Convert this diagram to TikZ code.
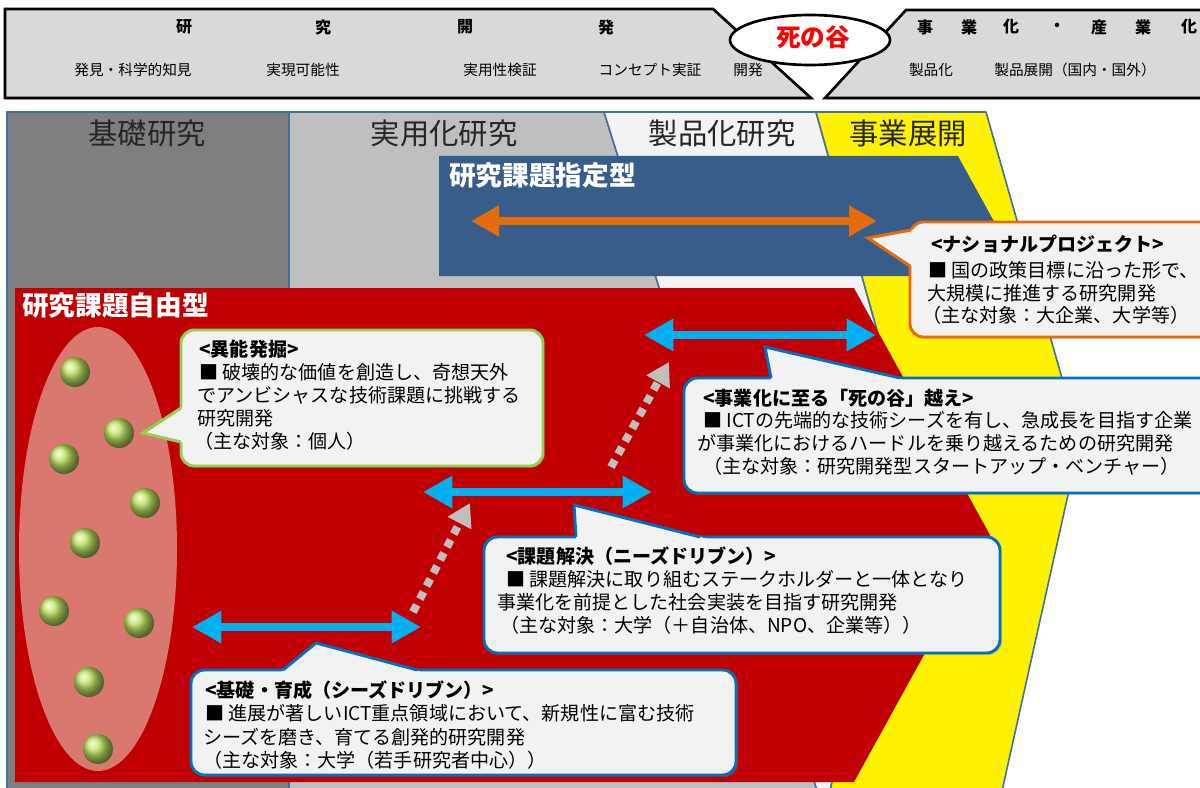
\documentclass[tikz,border=0pt]{standalone}
\usepackage{fontspec}
\setmainfont{Noto Sans CJK JP}
\usetikzlibrary{arrows.meta,shapes.geometric,shadows}
\definecolor{dgray}{HTML}{7F7F7F}
\definecolor{lgray}{HTML}{BFBFBF}
\definecolor{vlgray}{HTML}{F2F2F2}
\definecolor{topgray}{HTML}{D9D9D9}
\definecolor{frameblue}{HTML}{41719C}
\definecolor{regionblue}{HTML}{385D8A}
\definecolor{regionred}{HTML}{C00000}
\definecolor{orangeC}{HTML}{E46C0A}
\definecolor{cyanC}{HTML}{00B0F0}
\definecolor{boxblue}{HTML}{0070C0}
\definecolor{boxgreen}{HTML}{92D050}
\definecolor{pinkC}{HTML}{D9786E}
\definecolor{ballgreen}{HTML}{BDE35F}
\definecolor{dotgray}{HTML}{BFBFBF}
\definecolor{headtxt}{HTML}{262626}
\begin{document}
\begin{tikzpicture}[x=0.75pt,y=-0.75pt,
  topshape/.style={fill=topgray, draw=black, line width=2pt, line join=miter,
    drop shadow={shadow xshift=1.5pt, shadow yshift=-1.5pt, opacity=0.35}},
  col/.style={draw=frameblue, line width=1.2pt, line join=round},
  cbox/.style={fill=vlgray, line width=2.2pt, rounded corners=10pt,
    drop shadow={shadow xshift=1.5pt, shadow yshift=-1.5pt, opacity=0.3}},
  ptr/.style={line width=2.2pt, line join=miter},
  txt/.style={anchor=west, inner sep=0pt, font=\fontsize{14.3}{17}\selectfont},
  ttl/.style={anchor=west, inner sep=0pt, font=\fontsize{14.3}{17}\selectfont\bfseries},
  toph/.style={inner sep=0pt, font=\fontsize{12}{14}\selectfont\bfseries},
  topl/.style={inner sep=0pt, font=\fontsize{11}{13}\selectfont},
  colhead/.style={inner sep=0pt, text=headtxt, font=\fontsize{22}{24}\selectfont},
  regtitle/.style={anchor=west, inner sep=0pt, text=white, font=\fontsize{20}{22}\selectfont\bfseries},
  cyanarrow/.style={draw=cyanC, line width=6.5pt, >={Triangle[length=22pt,width=23pt]}, <->},
  orangearrow/.style={draw=orangeC, line width=6.5pt, >={Triangle[length=21pt,width=22pt]}, <->},
  dotarrow/.style={draw=dotgray, line width=6pt, dash pattern=on 6pt off 5pt, >={Triangle[length=17pt,width=19pt]}, ->},
  ball/.style={ball color=ballgreen}
]
\useasboundingbox (0,0) rectangle (1200,788);
\clip (0,0) rectangle (1200,788);

% ---------------- top bar ----------------
\draw[topshape] (5,9) -- (713,9) -- (811,98) -- (5,98) -- cycle;
\draw[topshape] (825,98) -- (906,10) -- (1215,10) -- (1215,98) -- cycle;
\node[ellipse, draw=black, line width=2pt, fill=white, minimum width=120pt, minimum height=37.5pt, inner sep=0pt] (valley) at (810,40) {};
\node[inner sep=0pt, text=red, font=\fontsize{18.5}{20}\selectfont\bfseries] (valleytxt) at (813,37) {死の谷};

\node[toph] (k1) at (184,27) {研};
\node[toph] (k2) at (323,27) {究};
\node[toph] (k3) at (465,27) {開};
\node[toph] (k4) at (606,27) {発};
\node[toph] (j1) at (925,27) {事};
\node[toph] (j2) at (969,27) {業};
\node[toph] (j3) at (1011,27) {化};
\node[toph] (j4) at (1057,27) {・};
\node[toph] (j5) at (1099,27) {産};
\node[toph] (j6) at (1143,27) {業};
\node[toph] (j7) at (1189,27) {化};

\node[topl] (s1) at (133,70) {発見・科学的知見};
\node[topl] (s2) at (303,70) {実現可能性};
\node[topl] (s3) at (500,70) {実用性検証};
\node[topl] (s4) at (650,70) {コンセプト実証};
\node[topl] (s5) at (748,70) {開発};
\node[topl] (s6) at (931,70) {製品化};
\node[topl] (s7) at (1075,70) {製品展開（国内・国外）};

% ---------------- columns ----------------
\draw[col, fill=dgray] (7,112) rectangle (289,800);
\draw[col, fill=lgray] (289,112) -- (604,112) -- (820,800) -- (289,800) -- cycle;
\draw[col, fill=vlgray] (604,112) -- (816,112) -- (908,441) -- (828,800) -- (820,800) -- cycle;
\draw[col, fill=yellow] (816,112) -- (986,112) -- (1080,441) -- (1000,800) -- (828,800) -- (908,441) -- cycle;

\node[colhead] (h1) at (147,133) {基礎研究};
\node[colhead] (h2) at (444,133) {実用化研究};
\node[colhead] (h3) at (722,133) {製品化研究};
\node[colhead] (h4) at (908,133) {事業展開};

% ---------------- designated type (blue) ----------------
\fill[regionblue] (439,156) -- (958,156) -- (1024,276) -- (439,276) -- cycle;
\node[regtitle] (bluetitle) at (449,175) {研究課題指定型};
\coordinate (oa) at (471,221);
\coordinate (ob) at (877,221);
\draw[orangearrow] (oa) -- (ob);

% ---------------- free type (red) ----------------
\fill[regionred] (15,288) -- (854,288) -- (990,535) -- (854,782) -- (15,782) -- cycle;
\node[regtitle] (redtitle) at (22,305) {研究課題自由型};

\fill[pinkC] (98,549) ellipse [x radius=79, y radius=222];
\shade[ball] (75,372) circle (15);
\shade[ball] (119,433) circle (15);
\shade[ball] (64,459) circle (15);
\shade[ball] (145,503) circle (15);
\shade[ball] (85,543) circle (15);
\shade[ball] (54,611) circle (15);
\shade[ball] (139,623) circle (15);
\shade[ball] (89,682) circle (15);
\shade[ball] (98,749) circle (15);

% arrows
\coordinate (c1a) at (192,627);
\coordinate (c1b) at (421,627);
\coordinate (c2a) at (423,492);
\coordinate (c2b) at (652,492);
\coordinate (c3a) at (644,335);
\coordinate (c3b) at (876,335);
\draw[cyanarrow] (c1a) -- (c1b);
\draw[cyanarrow] (c2a) -- (c2b);
\draw[cyanarrow] (c3a) -- (c3b);
\coordinate (d1a) at (413,612);
\coordinate (d1b) at (470,503);
\coordinate (d2a) at (611,467);
\coordinate (d2b) at (669,362);
\draw[dotarrow] (d1a) -- (d1b);
\draw[dotarrow] (d2a) -- (d2b);

% ---------------- callout: 異能発掘 ----------------
\draw[cbox, draw=boxgreen] (181,330) rectangle (543,466);
\fill[vlgray] (143,433) -- (186,405) -- (186,443) -- cycle;
\draw[ptr, draw=boxgreen] (181,408) -- (143,433) -- (181,442);
\node[ttl] (ig1) at (199,349) {<異能発掘>};
\node[txt] (ig2) at (199,372) {■ 破壊的な価値を創造し、奇想天外};
\node[txt] (ig3) at (197,395) {でアンビシャスな技術課題に挑戦する};
\node[txt] (ig4) at (197,418) {研究開発};
\node[txt] (ig5) at (194,441) {（主な対象：個人）};

% ---------------- callout: ナショナルプロジェクト ----------------
\draw[cbox, draw=orangeC] (910,222) rectangle (1215,337);
\fill[vlgray] (868,238) -- (916,229) -- (916,269) -- cycle;
\draw[ptr, draw=orangeC] (911.4,230) -- (868,238) -- (910,266);
\node[ttl] (np1) at (931,244) {<ナショナルプロジェクト>};
\node[txt] (np2) at (928,270) {■ 国の政策目標に沿った形で、};
\node[txt] (np3) at (927,293) {大規模に推進する研究開発};
\node[txt] (np4) at (922,315) {（主な対象：大企業、大学等）};

% ---------------- callout: 死の谷越え ----------------
\draw[cbox, draw=boxblue] (684,378) rectangle (1215,493);
\fill[vlgray] (765,347) -- (772,383) -- (916,383) -- cycle;
\draw[ptr, draw=boxblue] (771,378) -- (765,347) -- (900,378);
\node[ttl] (sv1) at (703,398) {<事業化に至る「死の谷」越え>};
\node[txt] (sv2) at (703,420) {■ ICTの先端的な技術シーズを有し、急成長を目指す企業};
\node[txt] (sv3) at (697,443) {が事業化におけるハードルを乗り越えるための研究開発};
\node[txt] (sv4) at (703,466) {（主な対象：研究開発型スタートアップ・ベンチャー）};

% ---------------- callout: 課題解決 ----------------
\draw[cbox, draw=boxblue] (484,537) rectangle (1000,653);
\fill[vlgray] (574,505) -- (576,541) -- (716,541) -- cycle;
\draw[ptr, draw=boxblue] (576,537) -- (574,505) -- (700,537);
\node[ttl] (kd1) at (506,556) {<課題解決（ニーズドリブン）>};
\node[txt] (kd2) at (506,579) {■ 課題解決に取り組むステークホルダーと一体となり};
\node[txt] (kd3) at (497,602) {事業化を前提とした社会実装を目指す研究開発};
\node[txt] (kd4) at (500,625) {（主な対象：大学（＋自治体、NPO、企業等））};

% ---------------- callout: 基礎・育成 ----------------
\draw[cbox, draw=boxblue] (191,670) rectangle (736,775);
\fill[vlgray] (316,643) -- (279,674) -- (429,674) -- cycle;
\draw[ptr, draw=boxblue] (283,670) -- (316,643) -- (417,670);
\node[ttl] (ks1) at (205,690) {<基礎・育成（シーズドリブン）>};
\node[txt] (ks2) at (205,713) {■ 進展が著しいICT重点領域において、新規性に富む技術};
\node[txt] (ks3) at (203,737) {シーズを磨き、育てる創発的研究開発};
\node[txt] (ks4) at (203,760) {（主な対象：大学（若手研究者中心））};
\end{tikzpicture}
\end{document}
